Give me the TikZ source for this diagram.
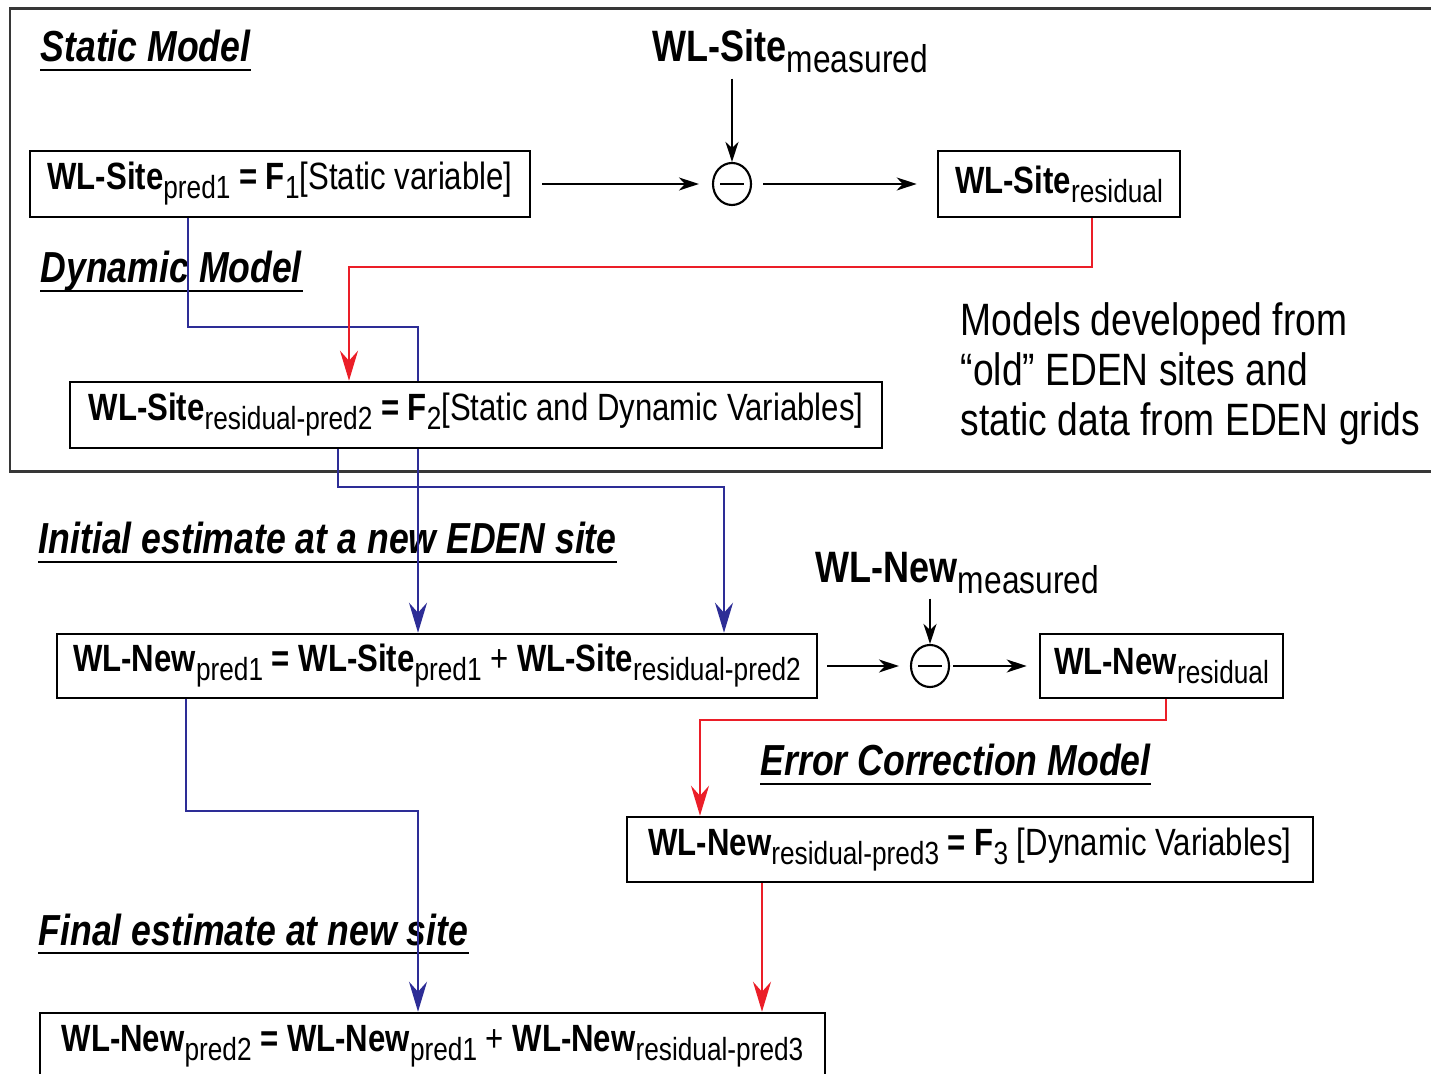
\documentclass[tikz,border=0pt]{standalone}
\usepackage{fontspec}
\setmainfont{Liberation Sans}[FakeStretch=0.82]
\usetikzlibrary{arrows.meta,shapes.geometric}
\definecolor{fblue}{RGB}{45,45,150}
\definecolor{fred}{RGB}{235,30,40}
\definecolor{fframe}{RGB}{55,55,55}
\newcommand\bxsub[1]{\raisebox{-0.45ex}{\fontsize{9.1}{10}\selectfont\mdseries #1}}
\newcommand\lbsub[1]{\raisebox{-0.45ex}{\fontsize{11}{12}\selectfont\mdseries #1}}
\begin{document}
\begin{tikzpicture}[x=0.01cm,y=-0.01cm,
  bx/.style={draw=black, line width=0.7pt, fill=white, inner sep=0pt, font=\fontsize{10.8}{13}\selectfont},
  hd/.style={inner sep=0pt, anchor=base west, font=\fontsize{12.35}{15}\selectfont\bfseries\itshape},
  ul/.style={line width=0.75pt},
  lb/.style={inner sep=0pt, anchor=base west, font=\fontsize{12.5}{15}\selectfont},
  diffc/.style={draw, ellipse, line width=0.6pt, minimum width=0.38cm, minimum height=0.42cm, inner sep=0pt,
    path picture={\draw[line width=0.7pt] (path picture bounding box.center) ++(-0.12cm,0) -- ++(0.24cm,0);}},
  arr/.style={line width=0.6pt, -{Stealth[length=0.2cm,width=0.13cm,inset=0.06cm]}},
  bl/.style={draw=fblue, line width=0.6pt, -{Stealth[length=0.3cm,width=0.18cm,inset=0.1cm]}},
  rd/.style={draw=fred, line width=0.6pt, -{Stealth[length=0.3cm,width=0.18cm,inset=0.1cm]}}]
\useasboundingbox (0,0) rectangle (1431,1074);
\clip (0,0) rectangle (1431,1074);

% outer frame (open on the right)
\draw[fframe, line width=0.85pt] (1431,9) -- (10,9) -- (10,472) -- (1431,472);

% headings
\node[hd] (h1) at (40,62) {Static Model};
\node[hd] (h2) at (40,283) {Dynamic Model};
\node[hd] (h3) at (38,554) {Initial estimate at a new EDEN site};
\node[hd] (h4) at (760,776) {Error Correction Model};
\node[hd] (h5) at (38,945) {Final estimate at new site};
\foreach \h in {h1,h2,h3,h4,h5}
  \draw[ul] ([yshift=-0.08cm]\h.base west) -- ([yshift=-0.08cm]\h.base east);

% measured labels
\node[lb] (lab1) at (652,62) {\textbf{WL-Site}\lbsub{measured}};
\node[lb] (lab2) at (815,583) {\textbf{WL-New}\lbsub{measured}};

% side note
\node[inner sep=0pt, anchor=north west, align=left, font=\fontsize{12.9}{14.2}\selectfont] (note) at (960,302)
  {Models developed from\\“old” EDEN sites and\\static data from EDEN grids};

% boxes
\node[bx, minimum width=5cm, minimum height=0.66cm] (box1) at (280,184)
  {\textbf{WL-Site}\bxsub{pred1} \textbf{= F}\bxsub{1}[Static variable]};
\node[bx, minimum width=2.42cm, minimum height=0.66cm] (res1) at (1059,184)
  {\textbf{WL-Site}\bxsub{residual}};
\node[bx, minimum width=7.6cm, minimum height=0.64cm] (box3) at (437,666)
  {\textbf{WL-New}\bxsub{pred1} \textbf{= WL-Site}\bxsub{pred1} + \textbf{WL-Site}\bxsub{residual-pred2}};
\node[bx, minimum width=2.43cm, minimum height=0.64cm] (res2) at (1161.5,666)
  {\textbf{WL-New}\bxsub{residual}};
\node[bx, minimum width=6.86cm, minimum height=0.65cm] (box5) at (970,849.5)
  {\textbf{WL-New}\bxsub{residual-pred3} \textbf{= F}\bxsub{3} [Dynamic Variables]};
\node[bx, minimum width=7.85cm, minimum height=0.66cm] (box6) at (432.5,1046)
  {\textbf{WL-New}\bxsub{pred2} \textbf{= WL-New}\bxsub{pred1} + \textbf{WL-New}\bxsub{residual-pred3}};

% difference circles
\node[diffc] (c1) at (732,184) {};
\node[diffc] (c2) at (930,666) {};

% blue line passing behind box2
\draw[bl] (box1.south -| 188,0) |- (418,327) -- (box3.north -| 418,0);

\node[bx, minimum width=8.12cm, minimum height=0.66cm] (box2) at (476,415)
  {\textbf{WL-Site}\bxsub{residual-pred2} \textbf{= F}\bxsub{2}[Static and Dynamic Variables]};

% black arrows
\draw[arr, shorten <=0.05cm] (c1.north |- lab1.south) -- (c1.north);
\draw[arr, shorten <=0.11cm, shorten >=0.13cm] (box1.east) -- (c1.west);
\draw[arr, shorten <=0.11cm, shorten >=0.20cm] (c1.east) -- (res1.west);
\draw[arr, shorten <=0.04cm] (c2.north |- lab2.south) -- (c2.north);
\draw[arr, shorten <=0.09cm, shorten >=0.11cm] (box3.east) -- (c2.west);
\draw[arr, shorten <=0.03cm, shorten >=0.12cm] (c2.east) -- (res2.west);

% red connectors
\draw[rd] (res1.south -| 1092,0) |- (349,267) -- (box2.north -| 349,0);
\draw[rd] (res2.south -| 1166,0) |- (700,720) -- (box5.north -| 700,0);
\draw[rd] (box5.south -| 762,0) -- (box6.north -| 762,0);

% blue connectors
\draw[bl] (box2.south -| 338,0) |- (724,487) -- (box3.north -| 724,0);
\draw[bl] (box3.south -| 186,0) |- (418,811) -- (box6.north -| 418,0);
\end{tikzpicture}
\end{document}
